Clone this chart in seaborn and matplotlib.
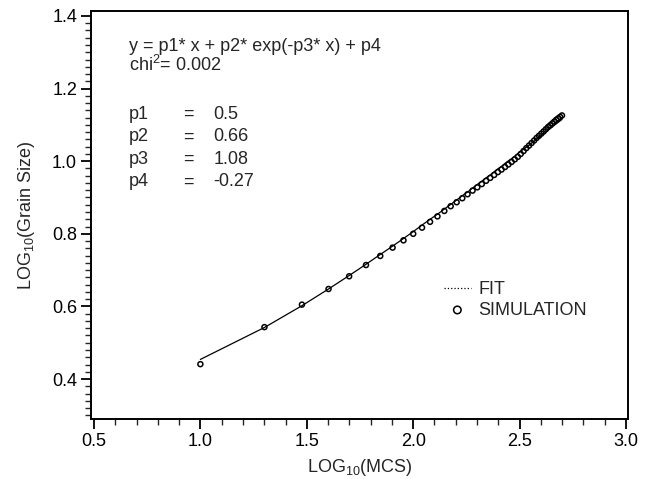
import matplotlib
matplotlib.use("Agg")
import matplotlib.pyplot as plt
from matplotlib.ticker import MultipleLocator, FormatStrFormatter
import seaborn as sns
import numpy as np
import pandas as pd

# Monte Carlo steps of the simulation snapshots
mcs = [10, 20, 30, 40, 50, 60, 70, 80, 90, 100,
       110, 120, 130, 140, 150, 160, 170, 180, 190, 200,
       210, 220, 230, 240, 250, 260, 270, 280, 290, 300,
       310, 320, 330, 340, 350, 360, 370, 380, 390, 400,
       410, 420, 430, 440, 450, 460, 470, 480, 490, 500]

# log10(grain size)
sim_grain = [0.441, 0.543, 0.605, 0.648, 0.683, 0.714, 0.739, 0.762, 0.782, 0.800,
             0.817, 0.833, 0.848, 0.863, 0.876, 0.887, 0.898, 0.909, 0.919, 0.928,
             0.937, 0.946, 0.954, 0.962, 0.970, 0.977, 0.984, 0.991, 0.998, 1.005,
             1.012, 1.020, 1.028, 1.036, 1.043, 1.050, 1.057, 1.064, 1.070, 1.076,
             1.082, 1.088, 1.094, 1.099, 1.104, 1.109, 1.114, 1.118, 1.122, 1.126]

# fitted curve, read at the same steps
fit_grain = [0.454, 0.542, 0.602, 0.648, 0.685, 0.716, 0.743, 0.766, 0.787, 0.806,
             0.824, 0.840, 0.854, 0.868, 0.881, 0.893, 0.905, 0.915, 0.926, 0.936,
             0.945, 0.954, 0.962, 0.971, 0.979, 0.986, 0.994, 1.001, 1.007, 1.014,
             1.021, 1.027, 1.033, 1.039, 1.044, 1.050, 1.055, 1.061, 1.066, 1.071,
             1.076, 1.080, 1.085, 1.090, 1.094, 1.099, 1.103, 1.107, 1.111, 1.115]

param_names = ["p1", "p2", "p3", "p4"]
param_values = ["0.5", "0.66", "1.08", "-0.27"]

df = pd.DataFrame({"logmcs": np.log10(mcs), "sim": sim_grain, "fit": fit_grain})

sns.set_style("ticks")
plt.rcParams["font.family"] = ["Liberation Sans", "DejaVu Sans"]
plt.rcParams["mathtext.default"] = "regular"

fig = plt.figure(figsize=(6.48, 4.79), dpi=100)
ax = fig.add_axes([0.1404, 0.1253, 0.829, 0.852])

sns.lineplot(data=df, x="logmcs", y="fit", ax=ax, color="black", linewidth=0.9,
             label="FIT")
sns.scatterplot(data=df, x="logmcs", y="sim", ax=ax, marker="o", s=13,
                facecolor="none", edgecolor="black", linewidth=1.1,
                label="SIMULATION", zorder=3)

ax.set_xlim(0.486, 3.01)
ax.set_ylim(0.29, 1.414)
ax.xaxis.set_major_locator(MultipleLocator(0.5))
ax.xaxis.set_minor_locator(MultipleLocator(0.1))
ax.yaxis.set_major_locator(MultipleLocator(0.2))
ax.yaxis.set_minor_locator(MultipleLocator(0.02))
ax.xaxis.set_major_formatter(FormatStrFormatter("%.1f"))
ax.yaxis.set_major_formatter(FormatStrFormatter("%.1f"))
ax.tick_params(which="major", direction="out", length=7, width=1.3, labelsize=13,
               colors="black", pad=3)
ax.tick_params(which="minor", direction="out", length=4, width=1.0)
ax.tick_params(top=False, right=False)
for s in ax.spines.values():
    s.set_linewidth(1.4)
    s.set_color("black")

ax.set_xlabel("LOG$_{10}$(MCS)", fontsize=13, labelpad=5)
ax.set_ylabel("LOG$_{10}$(Grain Size)", fontsize=13, labelpad=11)

# fit parameters
fs = 13
ax.text(0.071, 0.913, "y = p1* x + p2* exp(-p3* x) + p4", transform=ax.transAxes,
        fontsize=fs, va="center", ha="left")
ax.text(0.071, 0.867, "chi$^2$= 0.002", transform=ax.transAxes,
        fontsize=fs, va="center", ha="left")
for i, (name, val) in enumerate(zip(param_names, param_values)):
    yy = 0.746 - i * 0.055
    ax.text(0.071, yy, name, transform=ax.transAxes, fontsize=fs, va="center")
    ax.text(0.172, yy, "=", transform=ax.transAxes, fontsize=fs, va="center")
    ax.text(0.228, yy, val, transform=ax.transAxes, fontsize=fs, va="center")

leg = ax.legend(loc="upper left", bbox_to_anchor=(0.64, 0.36), frameon=False,
                fontsize=13, handlelength=1.5, handletextpad=0.4,
                labelspacing=0.2, borderpad=0, markerscale=1.5)
leg.legend_handles[0].set_linestyle(":")
leg.legend_handles[0].set_linewidth(0.9)

fig.savefig("out.png", dpi=100)
